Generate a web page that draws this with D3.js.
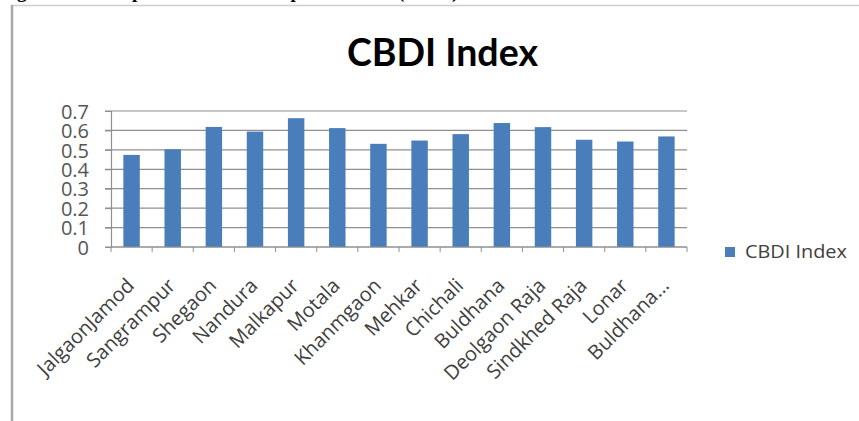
<!DOCTYPE html>
<html>
<head>
<meta charset="utf-8">
<script src="https://cdn.jsdelivr.net/npm/d3@7"></script>
<style>
  html, body { margin: 0; padding: 0; background: #fff; }
  svg { display: block; }
</style>
</head>
<body>
<div id="chart"></div>
<script>
// chart data
const categories = ["JalgaonJamod", "Sangrampur", "Shegaon", "Nandura", "Malkapur", "Motala",
  "Khanmgaon", "Mehkar", "Chichali", "Buldhana", "Deolgaon Raja", "Sindkhed Raja", "Lonar", "Buldhana..."];
const cbdiValues = [0.474, 0.503, 0.618, 0.594, 0.663, 0.612, 0.531, 0.548, 0.581, 0.638, 0.617, 0.552, 0.543, 0.569];
const yTickValues = [0, 0.1, 0.2, 0.3, 0.4, 0.5, 0.6, 0.7];
const seriesName = "CBDI Index";
const chartTitle = "CBDI Index";
const captionText = "Figure 5.3: Composite Block Development Index (CBDI)";

const W = 859, H = 421;
const margin = { top: 111, right: 172, bottom: 174, left: 111 };
const width = W - margin.left - margin.right,
  height = H - margin.top - margin.bottom;

const svg = d3.select("#chart").append("svg")
  .attr("width", W)
  .attr("height", H);

// frame of the cropped figure
svg.append("text")
  .attr("x", 0).attr("y", -2)
  .style("font-family", "'Liberation Serif', serif")
  .style("font-weight", "bold")
  .style("font-size", "19px")
  .attr("fill", "#000")
  .text(captionText);

svg.append("line")
  .attr("x1", 11).attr("x2", W).attr("y1", 5.5).attr("y2", 5.5)
  .attr("stroke", "#cfcfcf").attr("stroke-width", 1.5);
svg.append("line")
  .attr("x1", 12).attr("x2", 12).attr("y1", 5).attr("y2", H)
  .attr("stroke", "#a8a8a8").attr("stroke-width", 2.5);

// title, squeezed like the original Calibri
const title = svg.append("text")
  .attr("text-anchor", "middle")
  .style("font-family", "Lato, 'Open Sans', sans-serif")
  .style("font-weight", "bold")
  .style("font-size", "38px")
  .attr("fill", "#000")
  .text(chartTitle);
const tw = title.node().getComputedTextLength();
title.attr("transform", "translate(442.5,66) scale(" + (191 / tw) + ",1)");

const g = svg.append("g")
  .attr("transform", "translate(" + margin.left + "," + margin.top + ")");

const x = d3.scaleBand()
  .domain(categories)
  .range([0, width])
  .paddingInner(0.6)
  .paddingOuter(0.3);

const y = d3.scaleLinear()
  .domain([0, 0.7])
  .range([height, 0]);

// gridlines
g.append("g")
  .selectAll("line")
  .data(yTickValues)
  .enter()
  .append("line")
  .attr("x1", -6)
  .attr("x2", width)
  .attr("y1", d => y(d))
  .attr("y2", d => y(d))
  .attr("stroke", "#8f8f8f")
  .attr("stroke-width", 1.2);

// y axis
const yAxis = g.append("g")
  .call(d3.axisLeft(y).tickValues(yTickValues).tickSize(6).tickPadding(16)
    .tickFormat(d => d === 0 ? "0" : d3.format(".1f")(d)));
yAxis.select(".domain").attr("stroke", "#8f8f8f").attr("stroke-width", 1.2);
yAxis.selectAll(".tick line").attr("stroke", "#8f8f8f");
yAxis.selectAll("text")
  .style("font-family", "'Open Sans', sans-serif")
  .style("font-size", "20px")
  .attr("fill", "#555")
  .attr("dy", "0.36em");

// bars
g.selectAll("rect.bar")
  .data(categories)
  .enter()
  .append("rect")
  .attr("class", "bar")
  .attr("x", d => x(d))
  .attr("y", (d, i) => y(cbdiValues[i]))
  .attr("width", x.bandwidth())
  .attr("height", (d, i) => height - y(cbdiValues[i]))
  .attr("fill", "#4a7ebb");

// x axis with ticks between categories
const boundaries = d3.range(categories.length + 1).map(i => i * (width / categories.length));
g.append("line")
  .attr("x1", 0).attr("x2", width)
  .attr("y1", height).attr("y2", height)
  .attr("stroke", "#8f8f8f").attr("stroke-width", 1.2);
g.append("g")
  .selectAll("line")
  .data(boundaries)
  .enter()
  .append("line")
  .attr("x1", d => d).attr("x2", d => d)
  .attr("y1", height).attr("y2", height + 5)
  .attr("stroke", "#8f8f8f");

g.append("g")
  .selectAll("text")
  .data(categories)
  .enter()
  .append("text")
  .attr("transform", d => "translate(" + (x(d) + x.bandwidth() / 2 - 6) + "," + (height + 30) + ") rotate(-45)")
  .attr("text-anchor", "end")
  .attr("dy", "0.7em")
  .style("font-family", "'Open Sans', sans-serif")
  .style("font-size", "20px")
  .attr("fill", "#404040")
  .text(d => d);

// legend
const legend = svg.append("g").attr("transform", "translate(725,247)");
legend.append("rect")
  .attr("width", 10).attr("height", 10)
  .attr("fill", "#4a7ebb");
const lt = legend.append("text")
  .attr("y", 11)
  .style("font-family", "'Open Sans', sans-serif")
  .style("font-size", "18px")
  .attr("fill", "#404040")
  .text(seriesName);
const lw = lt.node().getComputedTextLength();
lt.attr("transform", "translate(20,0) scale(" + (102 / lw) + ",1)");
</script>
</body>
</html>
